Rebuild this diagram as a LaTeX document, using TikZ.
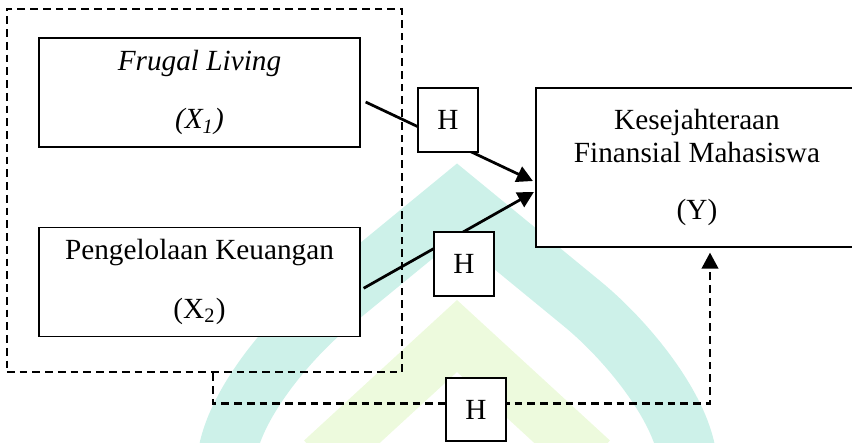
\documentclass[tikz,border=0pt]{standalone}
\usepackage{fontspec}
\setmainfont{Liberation Serif}
\usetikzlibrary{positioning}
\usetikzlibrary{arrows.meta}

\definecolor{marktosca}{RGB}{205,241,233}
\definecolor{markkuning}{RGB}{237,250,221}

\begin{document}
\begin{tikzpicture}[x=0.4pt, y=-0.4pt, font=\fontsize{11.7}{13.2}\selectfont,
	var/.style={draw, fill=white, line width=0.5pt, align=center, inner sep=0pt, minimum width=128.4pt, minimum height=43.6pt},
	hyp/.style={draw, fill=white, line width=0.5pt, inner sep=0pt, minimum width=24pt, minimum height=25.6pt},
	panah/.style={line width=1.1pt, -{Triangle[length=6.4pt, width=6.6pt]}},
	putus/.style={line width=1pt, dash pattern=on 3.1pt off 2pt}]
		\useasboundingbox (0,0) rectangle (852,442);
		
		\draw[marktosca, line width=23.2pt, line join=miter] (226,462) .. controls (230,410) and (286.5,341) .. (331.5,304) -- (457,201) -- (582.5,304) .. controls (627.5,341) and (684,410) .. (688,462);
		\draw[markkuning, line width=21.2pt, line join=miter] (322,460) -- (457,336) -- (592,460);
		
		\node[var] (x1) at (199.5,92.5) {\textit{Frugal Living}\\[10pt]\textit{(X\textsubscript{1})}};
		\node[var, below = 31.6pt of x1] (x2) {Pengelolaan Keuangan\\[10.4pt](X\textsubscript{2})};
		\node[var, minimum width=128.8pt, minimum height=63.6pt] (y) at (697,167.5) {Kesejahteraan\\Finansial Mahasiswa\\[9.6pt](Y)};
		\node[draw, putus, minimum width=158pt, minimum height=145.2pt] (grp) at (204.5,190.5) {};
		
		\draw[panah] ([xshift=2pt, yshift=-3.8pt]x1.east) -- ([xshift=-1pt, yshift=-5.4pt]y.west);
		\draw[panah] ([xshift=1.2pt, yshift=-2.6pt]x2.east) -- ([xshift=-0.6pt, yshift=-9.8pt]y.west);
		\draw[putus, -{Triangle[length=6.4pt, width=6.6pt]}] ([xshift=3.4pt]grp.south) -- ++(0,30) -| ([xshift=5.2pt, yshift=-2pt]y.south);
		
		\node[hyp] (h1) at (448,120) {H};
		\node[hyp] (h2) at (464,264) {H};
		\node[hyp, minimum height=25.2pt] (h3) at (476,409.5) {H};
	\end{tikzpicture}
\end{document}
